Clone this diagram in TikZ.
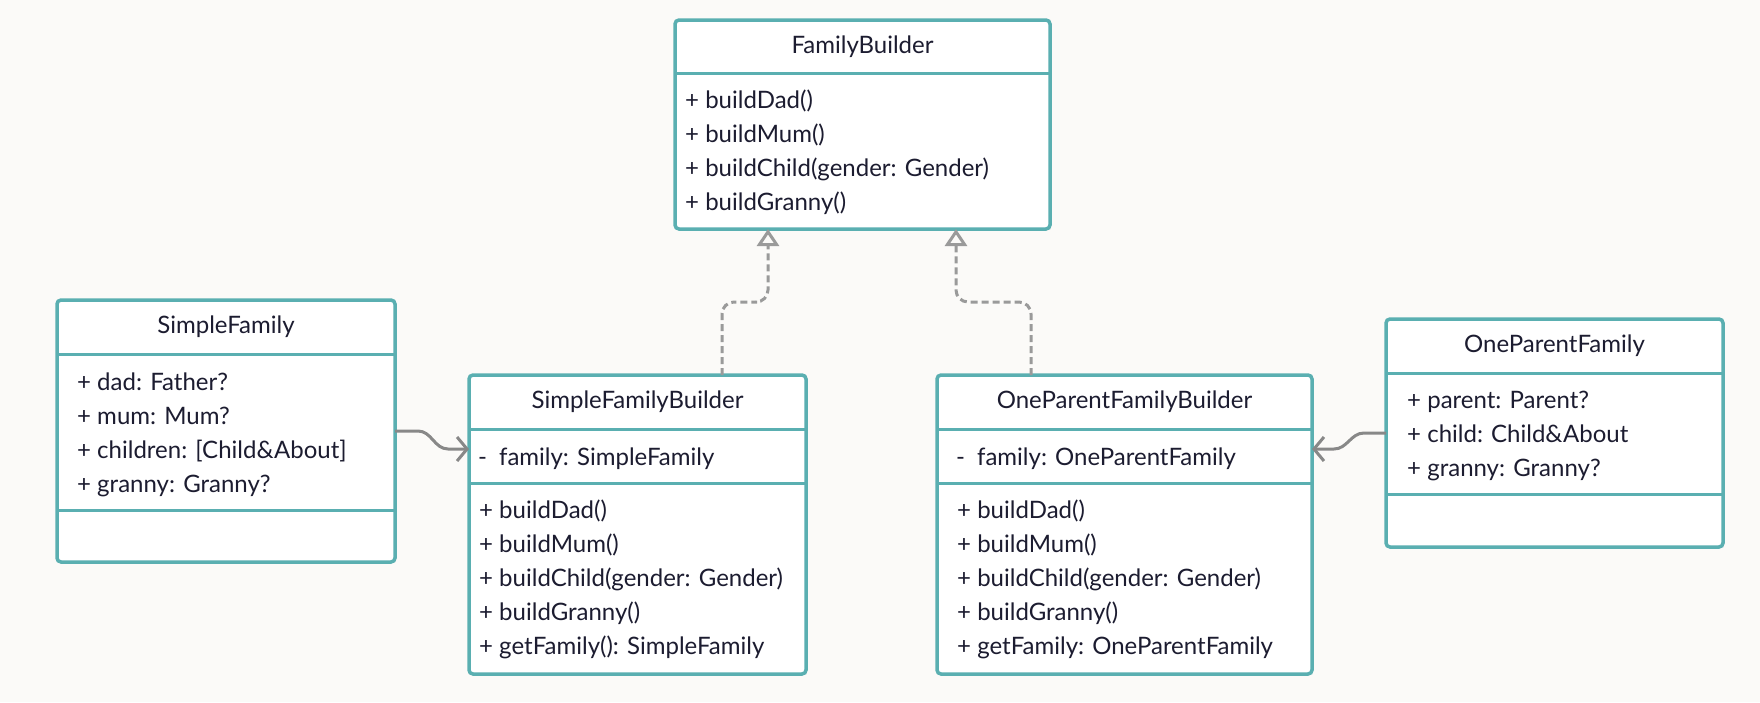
\documentclass[tikz,border=0pt]{standalone}
\usepackage{fontspec}
\setmainfont{Lato}
\usetikzlibrary{positioning,arrows.meta,calc}
\definecolor{umlteal}{HTML}{5AAFB1}
\definecolor{umlink}{HTML}{1C1C30}
\definecolor{umlgray}{HTML}{888888}
\definecolor{umlpaper}{HTML}{FBFAF8}

\begin{document}
\begin{tikzpicture}[
      x=1pt, y=-1pt,
      every node/.style={text=umlink, font=\fontsize{24}{34}\selectfont},
      classbox/.style={draw=umlteal, fill=white, line width=3.5pt, rounded corners=4pt, inner sep=0pt, outer sep=0pt},
      classname/.style={inner sep=0pt, minimum height=53pt},
      members/.style={inner sep=0pt, align=left},
      divider/.style={draw=umlteal, line width=3pt},
      realize/.style={draw=umlgray!85, line width=3pt, dash pattern=on 7pt off 4pt, rounded corners=12pt, -{Triangle[open, length=17pt, width=22pt]}},
      assoc/.style={draw=umlgray, line width=3pt, -{Straight Barb[length=10pt, width=24pt]}}
      ]
      \fill[umlpaper] (0,0) rectangle (1760,702);
      \useasboundingbox (0,0) rectangle (1760,702);

      % interface
      \node[classbox, minimum width=375pt, minimum height=209pt] (fb) at (862.5,124.5) {};
      \node[classname, below=0pt of fb.north] (fb-name) {FamilyBuilder};
      \coordinate (fb-div1) at (fb.west |- fb-name.south);
      \draw[divider] (fb-div1) -- (fb-div1 -| fb.east);
      \node[members, below right=16pt and 10pt of fb-div1] (fb-ops)
        {+ buildDad()\\+ buildMum()\\+ buildChild(gender: Gender)\\+ buildGranny()};

      % products
      \node[classbox, minimum width=338pt, minimum height=262pt] (sf) at (226,431) {};
      \node[classname, below=0pt of sf.north, minimum height=54pt] (sf-name) {SimpleFamily};
      \coordinate (sf-div1) at (sf.west |- sf-name.south);
      \coordinate (sf-div2) at ([yshift=-156pt]sf-div1);
      \draw[divider] (sf-div1) -- (sf-div1 -| sf.east);
      \draw[divider] (sf-div2) -- (sf-div2 -| sf.east);
      \node[members, below right=18pt and 20pt of sf-div1] (sf-attrs)
        {+ dad: Father?\\+ mum: Mum?\\+ children: [Child\&About]\\+ granny: Granny?};

      \node[classbox, minimum width=337pt, minimum height=228pt] (opf) at (1554.5,433) {};
      \node[classname, below=0pt of opf.north, minimum height=54pt] (opf-name) {OneParentFamily};
      \coordinate (opf-div1) at (opf.west |- opf-name.south);
      \coordinate (opf-div2) at ([yshift=-121pt]opf-div1);
      \draw[divider] (opf-div1) -- (opf-div1 -| opf.east);
      \draw[divider] (opf-div2) -- (opf-div2 -| opf.east);
      \node[members, below right=18pt and 21pt of opf-div1] (opf-attrs)
        {+ parent: Parent?\\+ child: Child\&About\\+ granny: Granny?};

      % builders
      \node[classbox, minimum width=337pt, minimum height=299pt] (sfb) at (637.5,524.5) {};
      \node[classname, below=0pt of sfb.north, minimum height=54pt] (sfb-name) {SimpleFamilyBuilder};
      \coordinate (sfb-div1) at (sfb.west |- sfb-name.south);
      \coordinate (sfb-div2) at ([yshift=-54pt]sfb-div1);
      \draw[divider] (sfb-div1) -- (sfb-div1 -| sfb.east);
      \draw[divider] (sfb-div2) -- (sfb-div2 -| sfb.east);
      \node[members, below right=18pt and 9pt of sfb-div1] (sfb-attrs) {-\hspace{12pt}family: SimpleFamily};
      \node[members, below right=16pt and 10pt of sfb-div2] (sfb-ops)
        {+ buildDad()\\+ buildMum()\\+ buildChild(gender: Gender)\\+ buildGranny()\\+ getFamily(): SimpleFamily};

      \node[classbox, minimum width=375pt, minimum height=299pt] (opfb) at (1124.5,524.5) {};
      \node[classname, below=0pt of opfb.north, minimum height=54pt] (opfb-name) {OneParentFamilyBuilder};
      \coordinate (opfb-div1) at (opfb.west |- opfb-name.south);
      \coordinate (opfb-div2) at ([yshift=-54pt]opfb-div1);
      \draw[divider] (opfb-div1) -- (opfb-div1 -| opfb.east);
      \draw[divider] (opfb-div2) -- (opfb-div2 -| opfb.east);
      \node[members, below right=18pt and 19pt of opfb-div1] (opfb-attrs) {-\hspace{12pt}family: OneParentFamily};
      \node[members, below right=16pt and 20pt of opfb-div2] (opfb-ops)
        {+ buildDad()\\+ buildMum()\\+ buildChild(gender: Gender)\\+ buildGranny()\\+ getFamily: OneParentFamily};

      % realization
      \coordinate (sfb-up) at ([xshift=84.5pt]sfb.north);
      \coordinate (fb-in1) at ([xshift=-94.5pt]fb.south);
      \coordinate (opfb-up) at ([xshift=-93.5pt]opfb.north);
      \coordinate (fb-in2) at ([xshift=93.5pt]fb.south);
      \draw[realize] (sfb-up) |- ($(sfb-up)!.5!(fb-in1)$) -| (fb-in1);
      \draw[realize] (opfb-up) |- ($(opfb-up)!.5!(fb-in2)$) -| (fb-in2);

      % association
      \coordinate (sfb-in) at ([yshift=75.5pt]sfb.west);
      \coordinate (opfb-in) at ([yshift=75.5pt]opfb.east);
      \draw[assoc] (sf.east) -- ++(23pt,0) to[out=0,in=180] ++(30pt,-18pt) -- (sfb-in);
      \draw[assoc] (opf.west) -- ++(-22pt,0) to[out=180,in=0] ++(-30pt,-16pt) -- (opfb-in);
    \end{tikzpicture}
\end{document}
